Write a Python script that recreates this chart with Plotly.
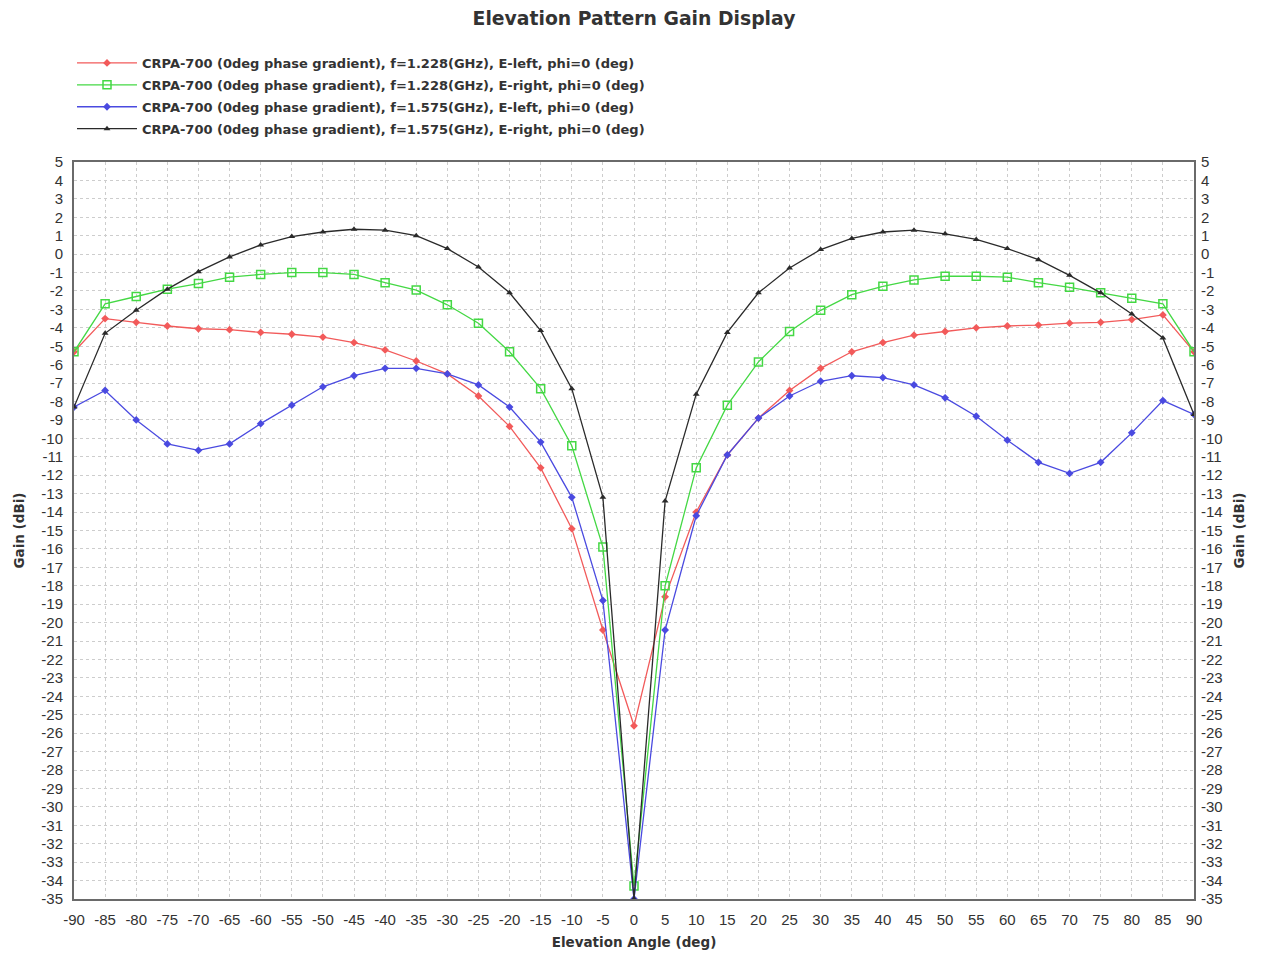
import plotly.graph_objects as go

# Elevation angles (deg), 5-degree steps from -90 to 90
angles = list(range(-90, 95, 5))

# Gain (dBi) per pattern cut
gain_1228_left = [-5.3, -3.5, -3.7, -3.9, -4.05, -4.1, -4.25, -4.35, -4.5, -4.8, -5.2, -5.8,
                  -6.5, -7.7, -9.35, -11.6, -14.9, -20.4, -25.6, -18.6, -14.0, -10.9, -8.9, -7.4,
                  -6.2, -5.3, -4.8, -4.4, -4.2, -4.0, -3.9, -3.85, -3.75, -3.7, -3.55, -3.3, -5.3]
gain_1228_right = [-5.3, -2.7, -2.3, -1.9, -1.6, -1.25, -1.1, -1.0, -1.0, -1.1, -1.55, -1.95,
                   -2.75, -3.75, -5.3, -7.3, -10.4, -15.9, -34.3, -18.0, -11.6, -8.2, -5.85, -4.2,
                   -3.05, -2.2, -1.75, -1.4, -1.2, -1.2, -1.25, -1.55, -1.8, -2.1, -2.4, -2.7, -5.3]
gain_1575_left = [-8.3, -7.4, -9.0, -10.3, -10.65, -10.3, -9.2, -8.2, -7.2, -6.6, -6.2, -6.2,
                  -6.5, -7.1, -8.3, -10.2, -13.2, -18.8, -35.0, -20.4, -14.2, -10.9, -8.9, -7.7,
                  -6.9, -6.6, -6.7, -7.1, -7.8, -8.8, -10.1, -11.3, -11.9, -11.3, -9.7, -7.95, -8.7]
gain_1575_right = [-8.3, -4.3, -3.05, -1.9, -0.95, -0.15, 0.5, 0.95, 1.2, 1.35, 1.3, 1.0,
                   0.3, -0.7, -2.1, -4.15, -7.3, -13.2, -35.0, -13.4, -7.6, -4.25, -2.1, -0.75,
                   0.25, 0.85, 1.2, 1.3, 1.1, 0.8, 0.3, -0.3, -1.15, -2.1, -3.25, -4.55, -8.7]

series_names = [
    "CRPA-700 (0deg phase gradient), f=1.228(GHz), E-left, phi=0 (deg)",
    "CRPA-700 (0deg phase gradient), f=1.228(GHz), E-right, phi=0 (deg)",
    "CRPA-700 (0deg phase gradient), f=1.575(GHz), E-left, phi=0 (deg)",
    "CRPA-700 (0deg phase gradient), f=1.575(GHz), E-right, phi=0 (deg)",
]
series_values = [gain_1228_left, gain_1228_right, gain_1575_left, gain_1575_right]
series_colors = ["#f25a5a", "#44d844", "#4a4ae0", "#2a2a2a"]
series_markers = [
    dict(symbol="diamond", size=6),
    dict(symbol="square-open", size=8, line=dict(width=1.5)),
    dict(symbol="diamond", size=6),
    dict(symbol="triangle-up", size=6),
]

x_ticks = list(range(-90, 95, 5))
y_ticks = list(range(-35, 6, 1))

# plot-area edges in pixels
PL, PR, PT, PB = 74, 1194, 162, 899
W, H = 1270, 958

bold_family = "DejaVu Sans, sans-serif"
tick_family = "Liberation Sans, Arial, sans-serif"

fig = go.Figure()
for i, (name, vals, col, mk) in enumerate(zip(series_names, series_values, series_colors, series_markers)):
    fig.add_trace(go.Scatter(
        x=angles, y=vals, name=f"<b>{name}</b>", mode="lines+markers", legendgroup=f"g{i}",
        line=dict(color=col, width=1.3),
        marker=dict(color=col, **mk),
    ))

# invisible trace so the mirrored right-hand axis is drawn
fig.add_trace(go.Scatter(x=[angles[0]], y=[y_ticks[0]], yaxis="y2", mode="markers",
                         marker=dict(opacity=0), showlegend=False, hoverinfo="skip"))

axis_font = dict(family=tick_family, size=15, color="#333")
title_font = dict(family=bold_family, size=13.5, color="#333")

fig.update_layout(
    width=W, height=H,
    margin=dict(l=PL, r=W - PR, t=PT, b=H - PB, autoexpand=False),
    paper_bgcolor="white", plot_bgcolor="white",
    title=dict(text="<b>Elevation Pattern Gain Display</b>", x=0.4992, xanchor="center",
               y=1 - 18 / H, yanchor="middle",
               font=dict(family=bold_family, size=18.8, color="#333")),
    font=dict(family=tick_family, color="#333"),
    legend=dict(x=(72 - PL) / (PR - PL), y=1 + (PT - 48) / (PB - PT),
                xanchor="left", yanchor="top", bgcolor="rgba(0,0,0,0)",
                font=dict(family=bold_family, size=13, color="#333"),
                tracegroupgap=2, itemwidth=60),
    xaxis=dict(range=[-90, 90], tickvals=x_ticks, ticktext=[str(v) for v in x_ticks],
               tickangle=0,
               showgrid=True, gridcolor="#cdcdcd", griddash="3px,3px", gridwidth=1,
               zeroline=False, showline=True, linecolor="#6a6a6a", linewidth=2, mirror=True,
               ticks="", tickfont=axis_font, ticklabelstandoff=6,
               title=dict(text="<b>Elevation Angle (deg)</b>", font=title_font, standoff=11)),
    yaxis=dict(range=[-35, 5], tickvals=y_ticks, ticktext=[str(v) for v in y_ticks],
               showgrid=True, gridcolor="#cdcdcd", griddash="3px,3px", gridwidth=1,
               zeroline=False, showline=True, linecolor="#6a6a6a", linewidth=2, mirror=True,
               ticks="", tickfont=axis_font, ticklabelstandoff=6,
               title=dict(text="<b>Gain (dBi)</b>", font=title_font, standoff=14)),
    yaxis2=dict(range=[-35, 5], tickvals=y_ticks, ticktext=[str(v) for v in y_ticks],
                overlaying="y", side="right", showgrid=False, zeroline=False,
                ticks="", tickfont=axis_font, ticklabelstandoff=6,
                title=dict(text="<b>Gain (dBi)</b>", font=title_font, standoff=12)),
)

fig.write_html("out.html")
